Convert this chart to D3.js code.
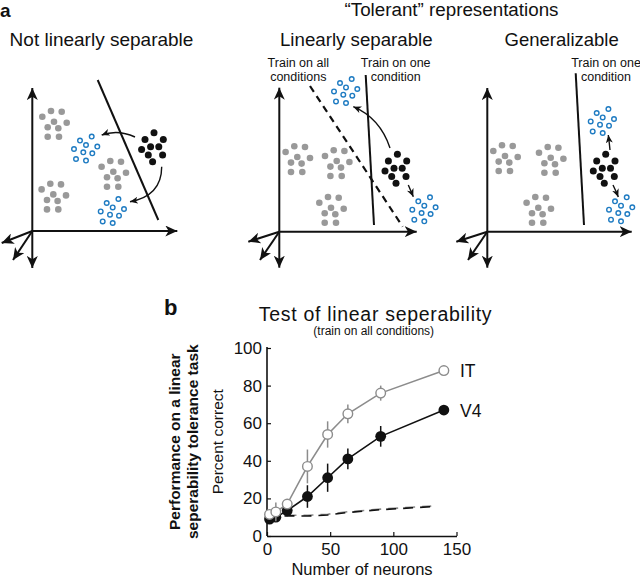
<!DOCTYPE html>
<html><head><meta charset="utf-8">
<script src="https://cdn.jsdelivr.net/npm/d3@7"></script>
<style>
body{margin:0;background:#fff}
svg{display:block}
text{font-family:"Liberation Sans",Arial,Helvetica,sans-serif;fill:#111}
</style>
</head><body><svg id="c" width="640" height="579"></svg>
<script>
// ================= Panel b data =================
const neurons   = [2, 7, 16, 32, 48, 64, 90, 140];
const itMean    = [11.5, 12.8, 17, 37, 54, 65, 76, 88];
const itErr     = [2, 5, 2, 9, 7, 5, 4, 1];
const v4Mean    = [9, 10, 13.5, 21, 31, 41, 53, 67];
const v4Err     = [2, 2, 3, 6, 7.5, 5.5, 5.5, 2];
const shuffleX  = [2, 16, 32, 48, 64, 90, 130];
const shuffleV4 = [10, 10.8, 10.6, 11.2, 12.5, 14, 15.6];
const shuffleIT = [10.3, 11, 11, 11.6, 12.9, 14.3, 15.9];
const xTicks    = [0, 50, 100, 150];
const yTicks    = [0, 20, 40, 60, 80, 100];
const seriesLabels = ["IT", "V4"];

// ================= Panel a data (diagram, local units, y up) =================
const panelTitles = ["Not linearly separable", "Linearly separable", "Generalizable"];
const grayClusters  = [[[21.7,107],[21,34.3],[81,57]], [[18,72.4],[57.4,68.4],[51.7,21.7]], [[17.7,73.4],[63.4,71.7],[51,21.7]]];
const blueClusters  = [[[52.7,81.7],[79.4,19.3]], [[65.7,140],[144,21.7]], [[114.4,110],[132.7,21.7]]];
const blackClusters = [[[121,84.3]], [[117.4,63.4]], [[117.7,63.4]]];
const solidBounds   = [[[65.4,151],[126,11]], [[86.4,156.7],[94.7,6.7]], [[88.4,158.4],[96.7,6.7]]];
const dashedBounds  = [[], [[[30.7,145.7],[123.4,5]]], []];
const curvedArrows  = [
  [[[102.7,94],[85.7,102],[69.4,96]], [[129.4,64.3],[129.3,35.2],[97.7,29.3]]],
  [[[110.7,83.7],[100.7,113.7],[74,125]], [[129,46.7],[131.5,41],[134,35]]],
  [[[122.7,81.7],[122,89],[121,96.7]], [[125.7,46.7],[128.5,41],[131,34.7]]]
];
const axisTips = [[[0,143],[145,0],[0,-37],[-30.6,-12],[-19.3,-29]],
                  [[0,144],[137.4,0],[0,-36],[-31,-10],[-19.3,-28.3]],
                  [[0,143.7],[144.4,0],[0,-36],[-31,-10],[-19.3,-28.3]]];
const panelOrigins = [[32.3,231],[279.3,231.7],[487.3,231.7]];
const boundLabels = [[], [["Train on all","conditions",298.3],["Train on one","condition",395.7]], [["Train on one","condition",606]]];
const grayPattern  = [[-11.7,7.3],[-3,13],[7.7,12.3],[0,2.3],[-6.3,-3.3],[4.3,-4.3],[12.7,1.3],[-6.3,-12.7],[5,-12.7]];
const blackPattern = [[-8.3,7.3],[0.7,14],[10,7.3],[-11.7,-2.7],[-2.7,0],[5.5,0],[-5,-8.3],[9.3,-8.3],[-0.7,-15]];
const bluePattern  = [[6.7,12.7],[-5,8.7],[1,4.3],[12.3,2.7],[-11,0.3],[-1.7,-3],[7.3,-4],[-9,-9.7],[1,-11.3]];

const svg = d3.select("#c");
const defs = svg.append("defs");
function marker(id, len, wid, color) {
  defs.append("marker").attr("id", id).attr("markerUnits","userSpaceOnUse")
    .attr("viewBox", `${-len} ${-wid/2} ${len+1} ${wid}`)
    .attr("refX", 0).attr("refY", 0)
    .attr("markerWidth", len+1).attr("markerHeight", wid).attr("orient","auto")
    .append("path").attr("d", `M0,0 L${-len},${-wid/2} L${-len*0.72},0 L${-len},${wid/2} Z`).attr("fill", color);
}
marker("axArrow", 12, 11, "#111");
marker("smArrow", 8, 7, "#111");

const BLUE = "#1e7bc2", GRAY = "#999999";

// ---- panel a label
svg.append("text").attr("x", 0).attr("y", 16.5).attr("font-size", 19).attr("font-weight", "bold").text("a");
svg.append("text").attr("x", 451.5).attr("y", 15.5).attr("text-anchor","middle").attr("font-size", 18.8).text("\u201CTolerant\u201D representations");
const titleX = [101.5, 356.3, 561.7];
const titleSize = [19, 18.7, 18.5];

panelOrigins.forEach((o, p) => {
  const xs = d3.scaleLinear().domain([0,100]).range([o[0], o[0]+100]);
  const ys = d3.scaleLinear().domain([0,100]).range([o[1], o[1]-100]);
  const g = svg.append("g");
  g.append("text").attr("x", titleX[p]).attr("y", 45.7).attr("text-anchor","middle").attr("font-size", titleSize[p]).text(panelTitles[p]);
  // axes
  axisTips[p].forEach(t => {
    g.append("line").attr("x1", xs(0)).attr("y1", ys(0)).attr("x2", xs(t[0])).attr("y2", ys(t[1]))
      .attr("stroke","#111").attr("stroke-width", 2).attr("marker-end","url(#axArrow)");
  });
  // boundaries
  solidBounds[p].length && g.append("line").attr("x1", xs(solidBounds[p][0][0])).attr("y1", ys(solidBounds[p][0][1]))
      .attr("x2", xs(solidBounds[p][1][0])).attr("y2", ys(solidBounds[p][1][1])).attr("stroke","#111").attr("stroke-width", 2);
  dashedBounds[p].forEach(b => {
    g.append("line").attr("x1", xs(b[0][0])).attr("y1", ys(b[0][1])).attr("x2", xs(b[1][0])).attr("y2", ys(b[1][1]))
      .attr("stroke","#111").attr("stroke-width", 2.2).attr("stroke-dasharray","7,5");
  });
  boundLabels[p].forEach(l => {
    g.append("text").attr("x", l[2]).attr("y", 67).attr("text-anchor","middle").attr("font-size", 12.5).text(l[0]);
    g.append("text").attr("x", l[2]).attr("y", 80.5).attr("text-anchor","middle").attr("font-size", 12.5).text(l[1]);
  });
  // clusters
  grayClusters[p].forEach(c => grayPattern.forEach(d => {
    g.append("circle").attr("cx", xs(c[0]+d[0])).attr("cy", ys(c[1]+d[1])).attr("r", 3.3).attr("fill", GRAY);
  }));
  blackClusters[p].forEach(c => blackPattern.forEach(d => {
    g.append("circle").attr("cx", xs(c[0]+d[0])).attr("cy", ys(c[1]+d[1])).attr("r", 3.5).attr("fill", "#111");
  }));
  blueClusters[p].forEach(c => bluePattern.forEach(d => {
    g.append("circle").attr("cx", xs(c[0]+d[0])).attr("cy", ys(c[1]+d[1])).attr("r", 2.3).attr("fill", "#fff").attr("stroke", BLUE).attr("stroke-width", 1.4);
  }));
  // curved arrows
  curvedArrows[p].forEach(a => {
    const path = d3.path();
    path.moveTo(xs(a[0][0]), ys(a[0][1]));
    path.quadraticCurveTo(xs(a[1][0]), ys(a[1][1]), xs(a[2][0]), ys(a[2][1]));
    g.append("path").attr("d", path.toString()).attr("fill","none").attr("stroke","#111").attr("stroke-width", 1.4).attr("marker-end","url(#smArrow)");
  });
});

// ================= Panel b =================
svg.append("text").attr("x", 164).attr("y", 315).attr("font-size", 22).attr("font-weight","bold").text("b");
const x = d3.scaleLinear().domain([0,150]).range([267, 456.5]);
const y = d3.scaleLinear().domain([0,100]).range([536, 348]);

svg.append("text").attr("x", 375.5).attr("y", 320.7).attr("text-anchor","middle").attr("font-size", 19.5).attr("letter-spacing", 0.7).text("Test of linear seperability");
svg.append("text").attr("x", 373.7).attr("y", 335).attr("text-anchor","middle").attr("font-size", 12).text("(train on all conditions)");

const yAxis = d3.axisLeft(y).tickValues(yTicks).tickSizeInner(-4).tickSizeOuter(0).tickPadding(5);
const xAxis = d3.axisBottom(x).tickValues(xTicks).tickSizeInner(-4).tickSizeOuter(0).tickPadding(7);
const gy = svg.append("g").attr("transform", `translate(${x(0)},0)`).call(yAxis);
const gx = svg.append("g").attr("transform", `translate(0,${y(0)})`).call(xAxis);
[gx, gy].forEach(g => {
  g.selectAll("text").attr("font-size", 17).attr("font-family", '"Liberation Sans",Arial,sans-serif').attr("fill","#111");
  g.select(".domain").attr("stroke","#111").attr("stroke-width", 1.6);
  g.selectAll(".tick line").attr("stroke","#111").attr("stroke-width", 1.2);
});
gy.select(".domain").attr("d", `M0,${y(0)}V${y(100)-1}`);

svg.append("text").attr("x", 362).attr("y", 574.5).attr("text-anchor","middle").attr("font-size", 16.5).text("Number of neurons");
svg.append("text").attr("transform", "translate(223,441.7) rotate(-90)").attr("text-anchor","middle").attr("font-size", 15.5).text("Percent correct");
svg.append("text").attr("transform", "translate(180,441.7) rotate(-90)").attr("text-anchor","middle").attr("font-size", 15.5).attr("font-weight","bold").text("Performance on a linear");
svg.append("text").attr("transform", "translate(198,441.7) rotate(-90)").attr("text-anchor","middle").attr("font-size", 15.5).attr("font-weight","bold").text("seperability tolerance task");

// shuffled controls (dashed)
const lineGen = d3.line().x(d => x(d[0])).y(d => y(d[1]));
svg.append("path").attr("d", lineGen(shuffleX.map((v,i)=>[v, shuffleIT[i]]))).attr("fill","none")
  .attr("stroke","#8c8c8c").attr("stroke-width", 1.6).attr("stroke-dasharray","10,7");
svg.append("path").attr("d", lineGen(shuffleX.map((v,i)=>[v, shuffleV4[i]]))).attr("fill","none")
  .attr("stroke","#111").attr("stroke-width", 1.6).attr("stroke-dasharray","10,7").attr("stroke-dashoffset", 2);

function drawSeries(mean, err, color, filled) {
  const g = svg.append("g");
  g.append("path").attr("d", lineGen(neurons.map((v,i)=>[v, mean[i]]))).attr("fill","none").attr("stroke", color).attr("stroke-width", 1.6);
  neurons.forEach((v,i) => {
    g.append("line").attr("x1", x(v)).attr("x2", x(v)).attr("y1", y(mean[i]-err[i])).attr("y2", y(mean[i]+err[i]))
      .attr("stroke", color).attr("stroke-width", 1.5);
  });
  neurons.forEach((v,i) => {
    g.append("circle").attr("cx", x(v)).attr("cy", y(mean[i])).attr("r", filled ? 5.4 : 4.8)
      .attr("fill", filled ? color : "#fff").attr("stroke", color).attr("stroke-width", filled ? 0 : 1.4);
  });
}
drawSeries(v4Mean, v4Err, "#111", true);
drawSeries(itMean, itErr, "#8c8c8c", false);

svg.append("text").attr("x", 460).attr("y", y(itMean[itMean.length-1]) + 0.5).attr("dy","0.35em").attr("font-size", 17.5).text(seriesLabels[0]);
svg.append("text").attr("x", 460).attr("y", y(v4Mean[v4Mean.length-1]) + 0.5).attr("dy","0.35em").attr("font-size", 17.5).text(seriesLabels[1]);
</script>
</body></html>
